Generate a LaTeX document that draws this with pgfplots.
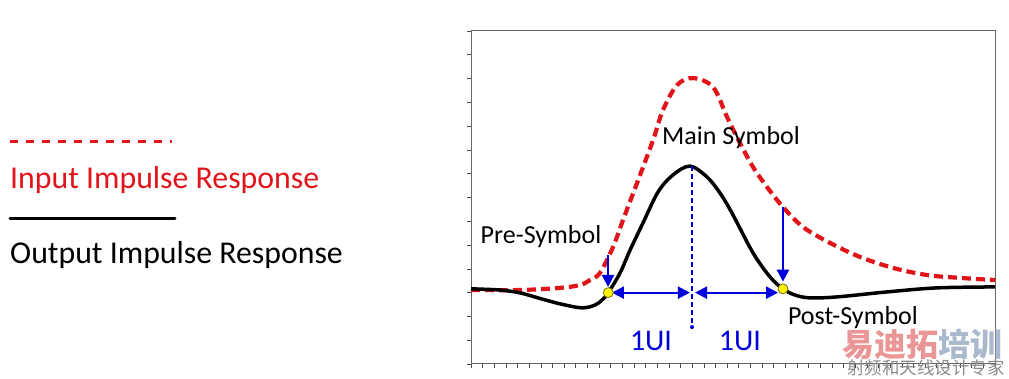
\documentclass[border=0pt]{standalone}
\usepackage{pgfplots}
\pgfplotsset{compat=1.18}
\usepackage{fontspec}
\setmainfont{Carlito}
\newfontfamily\cjk{Noto Sans CJK SC}
\usetikzlibrary{arrows.meta}
\definecolor{redc}{RGB}{225,20,25}
\definecolor{bluec}{RGB}{0,0,220}
\begin{document}
\begin{tikzpicture}[x=1pt,y=1pt]
\useasboundingbox (0,0) rectangle (1009,379);
\begin{axis}[
  at={(471pt,15pt)}, anchor=south west,
  scale only axis, width=524pt, height=333pt,
  xmin=0, xmax=45, ymin=-3, ymax=11,
  xtick={0,1,...,45}, ytick={-3,-2,...,11},
  xticklabels={}, yticklabels={},
  xtick pos=bottom, ytick pos=left,
  tick align=outside,
  major tick length=4pt,
  tick style={black!70, line width=0.7pt},
  axis line style={black!60, line width=1pt},
  clip=false,
]
% Input impulse response (red dashed)
\addplot[redc, line width=4.2pt, dash pattern=on 9pt off 5pt, smooth, tension=0.55] coordinates {
(0,0.11) (4.21,0.11) (7.64,0.20) (9.36,0.32) (10.22,0.53) (11.08,0.83)
(12.20,1.92) (13.06,3.06) (14.26,4.61) (15.64,6.42) (16.49,7.68) (17.70,8.73)
(19.07,9.02) (20.79,8.64) (21.99,7.38) (23.10,6.29) (24.22,5.28) (25.42,4.44)
(26.79,3.60) (28.51,2.76) (30.83,2.09) (33.41,1.50) (36.24,1.04) (39.16,0.74)
(42.0,0.62) (45,0.53)
};
% Output impulse response (black)
\addplot[black, line width=3.5pt, smooth, tension=0.55] coordinates {
(0,0.16) (2.49,0.11) (4.21,-0.01) (5.75,-0.22) (7.64,-0.47) (9.53,-0.64)
(10.65,-0.52) (11.25,-0.31) (11.79,0) (12.80,0.83) (13.66,1.79) (14.77,2.93)
(16.06,4.23) (17.35,4.95) (18.81,5.32) (20.27,4.86) (21.38,4.19) (22.41,3.35)
(24.22,1.67) (25.68,0.66) (26.79,0.16) (27.82,-0.10) (29.11,-0.22) (31.43,-0.18)
(35.73,0.03) (40.02,0.20) (45,0.24)
};
% blue annotations
\draw[bluec, line width=1.8pt, dash pattern=on 5pt off 3pt] (axis cs:18.98,5.32) -- (axis cs:18.98,-1.45);
\fill[bluec] (axis cs:18.98,-1.45) circle (2pt);
\draw[bluec, line width=2.2pt, {Triangle[width=12pt,length=12pt]}-{Triangle[width=12pt,length=12pt]}] (axis cs:12.1,0) -- (axis cs:18.8,0);
\draw[bluec, line width=2.2pt, {Triangle[width=12pt,length=12pt]}-{Triangle[width=12pt,length=12pt]}] (axis cs:19.24,0) -- (axis cs:26.37,0);
\draw[bluec, line width=2.2pt, -{Triangle[width=12pt,length=12pt]}] (axis cs:11.77,1.58) -- (axis cs:11.77,0.24);
\draw[bluec, line width=2.2pt, -{Triangle[width=12pt,length=12pt]}] (axis cs:26.79,3.6) -- (axis cs:26.79,0.46);
\filldraw[fill=yellow, draw=olive!80!black, line width=0.8pt] (axis cs:11.79,0) circle (5pt);
\filldraw[fill=yellow, draw=olive!80!black, line width=0.8pt] (axis cs:26.79,0.16) circle (5pt);
% labels
\node[font=\fontsize{26}{30}\selectfont] at (axis cs:22.33,6.54) {Main Symbol};
\node[font=\fontsize{26}{30}\selectfont] at (axis cs:6.01,2.35) {Pre-Symbol};
\node[font=\fontsize{26}{30}\selectfont] at (axis cs:32.8,-1.06) {Post-Symbol};
\node[bluec, font=\fontsize{30}{32}\selectfont] at (axis cs:15.46,-2.03) {1UI};
\node[bluec, font=\fontsize{30}{32}\selectfont] at (axis cs:23.1,-2.03) {1UI};
\end{axis}
% legend
\draw[redc, line width=3pt, dash pattern=on 8pt off 8pt] (10,237) -- (172,237);
\node[redc, anchor=west, inner sep=0pt, font=\fontsize{31.8}{34}\selectfont] at (10,199) {Input Impulse Response};
\draw[black, line width=3pt, line cap=round] (10,160) -- (175,160);
\node[black, anchor=west, inner sep=0pt, font=\fontsize{31.8}{34}\selectfont] at (10,124) {Output Impulse Response};
% watermark
\node[anchor=west, inner sep=0pt, font=\cjk\bfseries\fontsize{32}{34}\selectfont] at (842,35) {\textcolor[RGB]{235,150,150}{易迪拓}\textcolor[RGB]{170,185,205}{培训}};
\node[anchor=west, inner sep=0pt, font=\cjk\fontsize{17.5}{18}\selectfont, text=black!45] at (847,11) {射频和天线设计专家};
\end{tikzpicture}
\end{document}
